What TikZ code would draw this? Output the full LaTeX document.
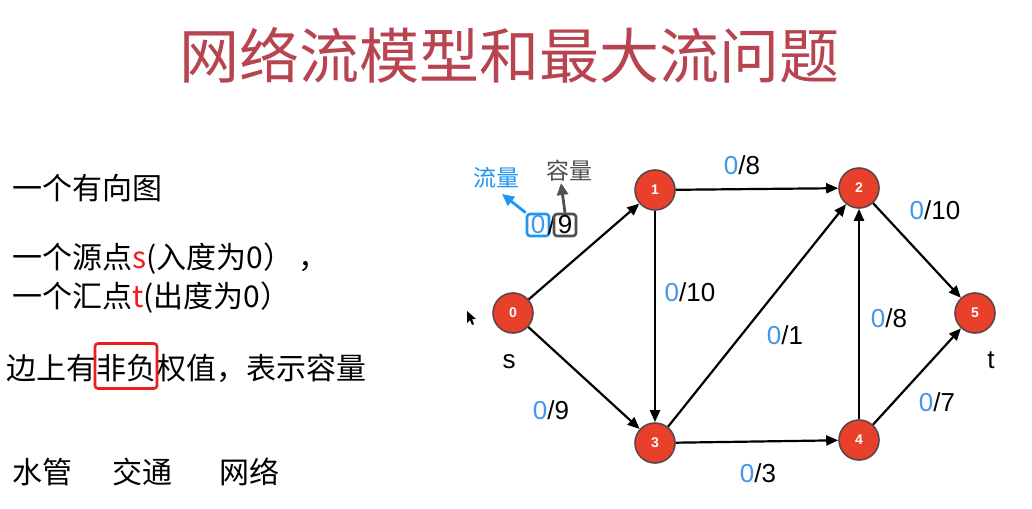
\documentclass[tikz,border=0pt]{standalone}
\usepackage{fontspec}
\usetikzlibrary{arrows.meta}
\newfontfamily\cjk{Noto Sans CJK SC}
\newfontfamily\lat{Liberation Sans}
\definecolor{titlered}{RGB}{184,68,80}
\definecolor{nodered}{RGB}{232,64,42}
\definecolor{nodeborder}{RGB}{90,72,72}
\definecolor{flowblue}{RGB}{66,150,235}
\definecolor{boxblue}{RGB}{30,150,245}
\definecolor{boxgray}{RGB}{80,80,80}
\definecolor{markred}{RGB}{235,30,30}
\definecolor{txtred}{RGB}{240,30,30}
\tikzset{
  vtx/.style={circle,minimum size=40pt,inner sep=0pt,fill=nodered,draw=nodeborder,line width=1.6pt,text=white,font=\lat\bfseries\fontsize{14}{16}\selectfont},
  edge/.style={line width=2.2pt,-{Triangle[length=12pt,width=10pt]}},
  elab/.style={font=\lat\fontsize{26}{30}\selectfont,inner sep=0pt},
  ltext/.style={font=\cjk\fontsize{30}{34}\selectfont,anchor=west,inner sep=0pt},
  digbox/.style={rounded corners=3pt,line width=2.6pt,minimum width=22pt,minimum height=22pt,inner sep=0pt,font=\lat\fontsize{26}{30}\selectfont},
  annot/.style={line width=2.8pt,-{Triangle[length=12pt,width=11pt]}}
}
\begin{document}
\begin{tikzpicture}[x=1pt,y=-1pt]
\useasboundingbox (0,0) rectangle (1032,508);
\fill[white] (0,0) rectangle (1032,508);
% title
\node[font=\cjk\fontsize{60}{66}\selectfont,text=titlered,inner sep=0pt] (title) at (509,55) {网络流模型和最大流问题};
% left text
\node[ltext] (t1) at (12,188) {一个有向图};
\node[ltext] (t2) at (12,259) {一个源点{\color{txtred}s}(入度为0）\,，};
\node[ltext] (t3) at (12,298) {一个汇点{\color{txtred}t}(出度为0）};
\node[ltext] (t4) at (6,368) {边上有非负权值，表示容量};
\node[draw=markred,line width=2.6pt,rounded corners=3pt,minimum width=62pt,minimum height=45pt,inner sep=0pt] (mark) at (126,366) {};
\node[ltext] (w1) at (12,472) {水管};
\node[ltext] (w2) at (112,472) {交通};
\node[ltext] (w3) at (219,472) {网络};
% graph nodes
\node[vtx] (n0) at (513,313) {0};
\node[vtx] (n1) at (655,190) {1};
\node[vtx] (n2) at (859,188) {2};
\node[vtx] (n3) at (655,443) {3};
\node[vtx] (n4) at (859,440) {4};
\node[vtx] (n5) at (975,313) {5};
\node[font=\lat\fontsize{26}{30}\selectfont,inner sep=0pt] (s) at (509,362) {s};
\node[font=\lat\fontsize{26}{30}\selectfont,inner sep=0pt] (t) at (991,360) {t};
% edges
\draw[edge] (n0) -- (n1);
\draw[edge] (n0) -- (n3);
\draw[edge] (n1) -- (n2);
\draw[edge] (n1) -- (n3);
\draw[edge] (n3) -- (n2);
\draw[edge] (n3) -- (n4);
\draw[edge] (n4) -- (n2);
\draw[edge] (n2) -- (n5);
\draw[edge] (n4) -- (n5);
% edge labels
\node[elab] (l03) at (551,410) {{\color{flowblue}0}/9};
\node[elab] (l12) at (742,165) {{\color{flowblue}0}/8};
\node[elab] (l13) at (690,292) {{\color{flowblue}0}/10};
\node[elab] (l32) at (785,335) {{\color{flowblue}0}/1};
\node[elab] (l34) at (758,473) {{\color{flowblue}0}/3};
\node[elab] (l42) at (889,318) {{\color{flowblue}0}/8};
\node[elab] (l25) at (935,210) {{\color{flowblue}0}/10};
\node[elab] (l45) at (937,402) {{\color{flowblue}0}/7};
% annotated label 0/9
\node[digbox,draw=boxblue,text=flowblue] (fbox) at (538,225) {0};
\node[elab] (slash) at (551.5,225) {/};
\node[digbox,draw=boxgray] (cbox) at (565,225) {9};
\node[font=\cjk\fontsize{23}{26}\selectfont,text=boxblue,inner sep=0pt] (fl) at (496,178) {流量};
\node[font=\cjk\fontsize{23}{26}\selectfont,text=boxgray,inner sep=0pt] (cap) at (569,171) {容量};
\coordinate (flend) at (502,194);
\coordinate (capend) at (561,183);
\draw[annot,draw=boxblue,fill=boxblue] (fbox.north west) -- (flend);
\draw[annot,draw=boxgray,fill=boxgray] (cbox.north) -- (capend);
% mouse pointer
\fill[black] (467,311) -- (467,323) -- (470,320) -- (472,325) -- (474,324) -- (472,319) -- (476,319) -- cycle;
\end{tikzpicture}
\end{document}
